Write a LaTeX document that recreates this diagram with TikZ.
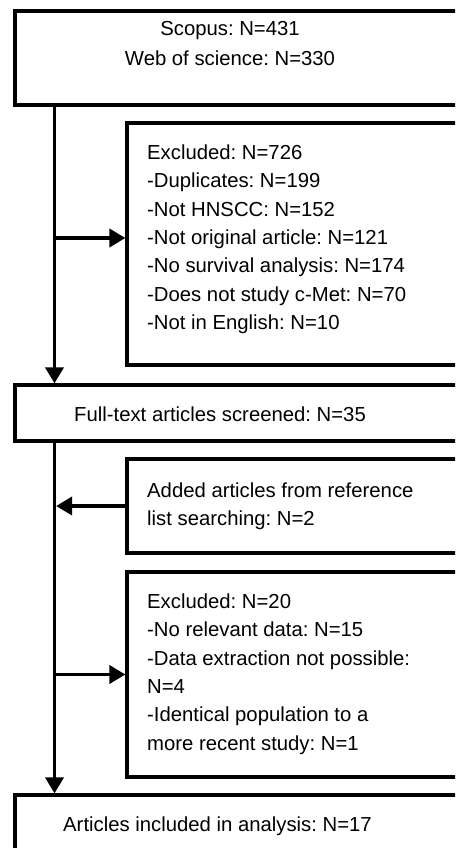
\documentclass[tikz,border=0pt]{standalone}
\usepackage{fontspec}
\setmainfont{Liberation Sans}
\frenchspacing
\usetikzlibrary{arrows.meta,calc}
\tikzset{
  box/.style={draw, line width=3.6pt, rectangle, outer sep=0pt, inner sep=0pt, anchor=north west},
  txt/.style={inner sep=0pt, anchor=north west, align=left, font=\fontsize{20.3}{28.3}\selectfont\frenchspacing},
  arr/.style={line width=3.6pt, -{Triangle[length=16pt,width=18pt]}, shorten >=1.6pt}
}
\begin{document}
\begin{tikzpicture}[x=1pt,y=-1pt]
\useasboundingbox (0,0) rectangle (455,848);
\clip (0,0) rectangle (455,848);
\fill[white] (0,0) rectangle (455,848);
% boxes
\node[box, minimum width=470pt, minimum height=94pt] (top) at (15,11) {};
\node[box, minimum width=360pt, minimum height=242pt] (ex1) at (127,123) {};
\node[box, minimum width=470pt, minimum height=56pt] (ft) at (15,385) {};
\node[box, minimum width=360pt, minimum height=94pt] (add) at (127,459) {};
\node[box, minimum width=360pt, minimum height=205pt] (ex2) at (127,572) {};
\node[box, minimum width=470pt, minimum height=80pt] (fin) at (15,795) {};
% texts
\node[txt, anchor=north, align=center, font=\fontsize{20.3}{30}\selectfont\frenchspacing] (ttop) at (230,14) {\strut Scopus: N=431\\Web of science: N=330};
\node[txt] (tex1) at (147,139.5) {\strut Excluded: N=726\\-Duplicates: N=199\\-Not HNSCC: N=152\\-Not original article: N=121\\-No survival analysis: N=174\\-Does not study c-Met: N=70\\-Not in English: N=10};
\node[txt] (tft) at (74,401.7) {\strut Full-text articles screened: N=35};
\node[txt] (tadd) at (147,477) {\strut Added articles from reference\\list searching: N=2};
\node[txt] (tex2) at (147,588.5) {\strut Excluded: N=20\\-No relevant data: N=15\\-Data extraction not possible:\\N=4\\-Identical population to a\\more recent study: N=1};
\node[txt] (tfin) at (63,811.9) {\strut Articles included in analysis: N=17};
% spine coordinates
\coordinate (s1) at ($(top.south west)+(39.5,0)$);
\coordinate (s2) at ($(ft.south west)+(39.5,0)$);
\coordinate (e1) at ([yshift=6pt]ex1.west);
% connectors
\draw[arr] (s1) -- (s1 |- ft.north);
\draw[arr] (s1 |- e1) -- (e1);
\draw[arr] (s2) -- (s2 |- fin.north);
\draw[arr] (add.west) -- (s2 |- add.west);
\draw[arr] (s2 |- ex2.west) -- (ex2.west);
\end{tikzpicture}
\end{document}
